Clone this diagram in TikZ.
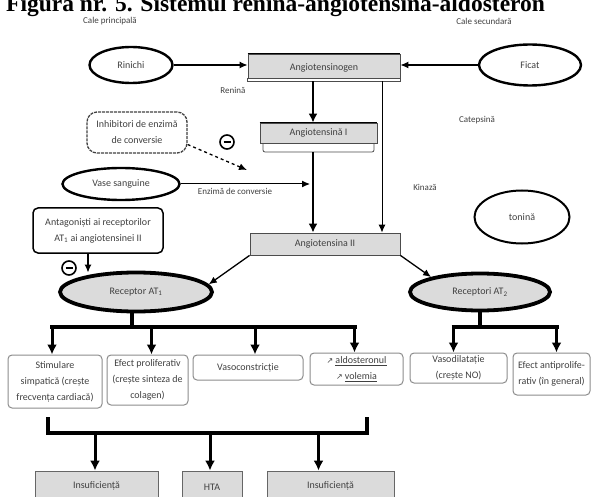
\documentclass[tikz,border=0pt]{standalone}
\usepackage{fontspec}
\setmainfont{Carlito}
\newfontfamily\titlefont{Liberation Serif}
\newfontfamily\symfont{DejaVu Sans}
\usetikzlibrary{shapes.geometric,arrows.meta,calc}
\begin{document}
\begin{tikzpicture}[x=1pt,y=-1pt,
  txt/.style={font=\fontsize{10}{16}\selectfont, text=black!75},
  oval/.style={ellipse, draw, line width=2.4pt, inner sep=0, txt},
  recep/.style={ellipse, draw, line width=3.8pt, fill=gray!28, inner sep=0, txt},
  graybox/.style={rectangle, draw=black!70, line width=0.8pt, fill=gray!28, inner sep=0, txt},
  effbox/.style={rectangle, rounded corners=4pt, draw=black!45, line width=1pt, inner sep=0, align=center, txt},
  outbox/.style={rectangle, draw=black!60, line width=0.8pt, fill=gray!28, inner sep=0, align=center, txt},
  lbl/.style={inner sep=0, txt, font=\fontsize{9}{12}\selectfont},
  thin arrow/.style={line width=1.3pt, -{Latex[length=8pt,width=7pt]}},
  thick arrow/.style={line width=2.5pt, -{Latex[length=9pt,width=9pt]}},
  fatline/.style={line width=3.5pt},
  fat arrow/.style={line width=3pt, -{Latex[length=10pt,width=10pt]}},
  minussign/.style={circle, draw, line width=1.6pt, minimum size=14pt, inner sep=0},
]
\useasboundingbox (0,0) rectangle (594,497);

% title
\node[anchor=base west, inner sep=0, font=\titlefont\bfseries\fontsize{23.5}{24}\selectfont] (title) at (6,12) {Figura nr. 5. Sistemul renina-angiotensina-aldosteron};

% labels
\node[lbl] (cp) at (110,21) {Cale principală};
\node[lbl] (cs) at (484,21) {Cale secundară};
\node[lbl] (ren) at (233,90) {Renină};
\node[lbl] (enz) at (235,191) {Enzimă de conversie};
\node[lbl] (cat) at (477,120) {Catepsină};
\node[lbl] (kin) at (425,187) {Kinază};

% main chain
\node[graybox, minimum width=152pt, minimum height=27pt] (ago) at (324,67.5) {Angiotensinogen};
\path[fill=white, draw=black!70, line width=0.8pt] ([yshift=3pt]ago.south west) rectangle (ago.south east);
\draw[line width=1.8pt] (ago.north west) -- (ago.north east);

\node[rectangle, draw=black!70, line width=0.8pt, rounded corners=2pt, fill=white, minimum width=111pt, minimum height=10pt, inner sep=0] (ag1s) at (318.5,147) {};
\node[graybox, minimum width=117pt, minimum height=20pt] (ag1) at (318.5,133) {Angiotensină I};
\draw[line width=1.8pt] (ag1.north west) -- (ag1.north east);

\node[graybox, minimum width=150pt, minimum height=22pt] (ag2) at (325,244) {Angiotensina II};

% ellipses
\node[oval, minimum width=83pt, minimum height=36pt] (rin) at (131,65) {Rinichi};
\node[oval, minimum width=102pt, minimum height=41pt] (fic) at (530,65) {Ficat};
\node[oval, minimum width=117pt, minimum height=32pt] (vas) at (121,184) {Vase sanguine};
\node[oval, line width=2pt, minimum width=95pt, minimum height=53pt] (ton) at (522,217) {tonină};
\node[recep, minimum width=152pt, minimum height=39pt] (at1) at (136,292) {Receptor AT\textsubscript{1}};
\node[recep, minimum width=140pt, minimum height=37pt] (at2) at (480,292) {Receptori AT\textsubscript{2}};

% inhibitors
\node[effbox, draw=black!75, line width=1.3pt, dash pattern=on 3pt off 1pt, rounded corners=10pt, minimum width=100pt, minimum height=41pt] (inh) at (137,132.5) {Inhibitori de enzimă\\de conversie};
\node[effbox, draw=black, line width=1.5pt, rounded corners=5pt, minimum width=130pt, minimum height=45pt] (ant) at (98,230.5) {Antagoniști ai receptorilor\\AT\textsubscript{1} ai angiotensinei II};
\node[minussign] (m1) at (227,142) {\rule{7pt}{2pt}};
\node[minussign] (m2) at (69,268) {\rule{7pt}{2pt}};

% effects
\node[effbox, minimum width=94pt, minimum height=53pt] (e1) at (55,381.5) {Stimulare\\simpatică (crește\\frecvența cardiacă)};
\node[effbox, minimum width=81pt, minimum height=50pt] (e2) at (147.5,380) {Efect proliferativ\\(crește sinteza de\\colagen)};
\node[effbox, minimum width=110pt, minimum height=25pt] (e3) at (248,367.5) {Vasoconstricție};
\node[effbox, minimum width=93pt, minimum height=32pt] (e4) at (356.5,369) {{\symfont\fontsize{8}{8}\selectfont ↗} \underline{aldosteronul}\\{\symfont\fontsize{8}{8}\selectfont ↗} \underline{volemia}};
\node[effbox, minimum width=97pt, minimum height=30pt] (e5) at (458.5,368) {Vasodilatație\\(crește NO)};
\node[effbox, minimum width=77pt, minimum height=42pt] (e6) at (551.5,374) {Efect antiprolife-\\rativ (în general)};

% outcomes
\node[outbox, minimum width=123pt, minimum height=44pt] (i1) at (96.5,493) {Insuficiență\\cardiacă};
\node[outbox, minimum width=60pt, minimum height=44pt, text depth=11pt] (i2) at (212,493) {HTA};
\node[outbox, minimum width=127pt, minimum height=44pt] (i3) at (330.5,493) {Insuficiență\\renală};

% coordinates
\coordinate (mainx) at (313,0);
\coordinate (sidex) at (382,0);
\coordinate (inhend) at (247,170);
\coordinate (bar1) at (0,327);
\coordinate (bk1) at (48,417);
\coordinate (bk2) at (367,417);
\coordinate (bar3) at (0,433);

% connectors
\draw[thin arrow] (rin.east) -- (rin.east -| ago.west);
\draw[thin arrow] (fic.west) -- (fic.west -| ago.east);
\draw[thick arrow] (mainx |- ago.south) -- (mainx |- ag1.north);
\draw[thick arrow] (mainx |- ag1s.south) -- (mainx |- ag2.north);
\draw[line width=1pt, -{Latex[length=8pt,width=7pt]}] (sidex |- ago.south) -- (sidex |- ag2.north);
\draw[line width=1pt, -{Latex[length=8pt,width=7pt]}] (vas.east) -- ([xshift=-3pt]mainx |- vas.east);
\draw[thin arrow, dashed] ([yshift=-12pt]inh.east) -- (inhend);
\draw[thin arrow] ([xshift=-10pt]ant.south) -- ([xshift=-10pt,yshift=-2pt]ant.south |- at1.north);
\draw[thin arrow] (ag2.south west) -- (at1.6);
\draw[thin arrow] (ag2.south east) -- (at2.163);

\draw[fatline] ([xshift=-4pt]at1.south) -- ([xshift=-4pt]at1.south |- bar1);
\draw[fatline] ([xshift=-5pt]e1.north |- bar1) -- ([xshift=0pt]e4.north |- bar1);
\draw[fat arrow] ([xshift=-3pt]e1.north |- bar1) -- ([xshift=-3pt]e1.north);
\draw[fat arrow] ([xshift=4pt]e2.north |- bar1) -- ([xshift=4pt]e2.north);
\draw[fat arrow] ([xshift=7pt]e3.north |- bar1) -- ([xshift=7pt]e3.north);
\draw[fat arrow] ([xshift=-2pt]e4.north |- bar1) -- ([xshift=-2pt]e4.north);

\draw[fatline] (at2.south) -- (at2.south |- bar1);
\draw[fatline] ([xshift=-7pt]e5.north |- bar1) -- ([xshift=7pt]e6.north |- bar1);
\draw[fat arrow] ([xshift=-5pt]e5.north |- bar1) -- ([xshift=-5pt]e5.north);
\draw[fat arrow] ([xshift=5pt]e6.north |- bar1) -- ([xshift=5pt]e6.north);

\draw[fatline, line join=miter] (bk1) -- (bk1 |- bar3) -- (bk2 |- bar3) -- (bk2);
\draw[fat arrow] ([xshift=-1.5pt]i1.north |- bar3) -- ([xshift=-1.5pt]i1.north);
\draw[fat arrow] ([xshift=-2pt]i2.north |- bar3) -- ([xshift=-2pt]i2.north);
\draw[fat arrow] ([xshift=-12pt]i3.north |- bar3) -- ([xshift=-12pt]i3.north);
\end{tikzpicture}
\end{document}
